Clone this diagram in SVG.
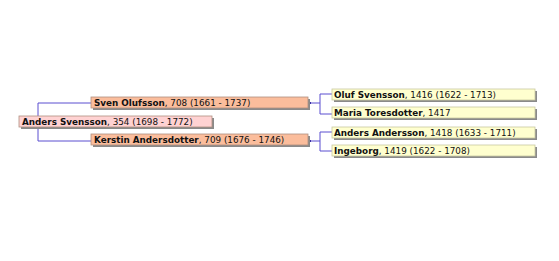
<svg xmlns="http://www.w3.org/2000/svg" width="559" height="261" viewBox="0 0 559 261">
<style>
.sh{fill:#8a8a8a}
.b{stroke:#b09080;stroke-width:0.8}
.p{fill:#ffd2d2}
.o{fill:#fbbd9c}
.y{fill:#ffffcf;stroke:#c8c8a0;stroke-width:0.8}
text{font-family:"DejaVu Sans",Verdana,sans-serif;font-size:8.8px;fill:#111}
.n{font-weight:bold}
.c{stroke:#5a4fd0;stroke-width:1;fill:none}
</style>
<rect width="559" height="261" fill="#fff"/>
<g id="connectors">
<path class="c" d="M91,103H38V141H91"/>
<path class="c" d="M310,103H320M320,94V114M320,94H332M320,114H332"/>
<path class="c" d="M310,141H320M320,132V151M320,132H332M320,151H332"/>
<rect x="309" y="102" width="2" height="2" fill="#3a2fa0"/>
<rect x="309" y="140" width="2" height="2" fill="#3a2fa0"/>
</g>
<g id="n354">
<rect class="sh" x="21" y="118" width="193" height="11"/>
<rect class="p b" x="19" y="116" width="193" height="11"/>
<text x="22" y="125"><tspan class="n">Anders Svensson</tspan>, 354 (1698 - 1772)</text>
</g>
<g id="n708">
<rect class="sh" x="93" y="99" width="217" height="11"/>
<rect class="o b" x="91" y="97" width="217" height="11"/>
<text x="94" y="106"><tspan class="n">Sven Olufsson</tspan>, 708 (1661 - 1737)</text>
</g>
<g id="n709">
<rect class="sh" x="93" y="136" width="217" height="11"/>
<rect class="o b" x="91" y="134" width="217" height="11"/>
<text x="94" y="143"><tspan class="n">Kerstin Andersdotter</tspan>, 709 (1676 - 1746)</text>
</g>
<g id="n1416">
<rect class="sh" x="334" y="91" width="203" height="11"/>
<rect class="y" x="332" y="89" width="203" height="11"/>
<text x="334" y="98"><tspan class="n">Oluf Svensson</tspan>, 1416 (1622 - 1713)</text>
</g>
<g id="n1417">
<rect class="sh" x="334" y="109" width="203" height="11"/>
<rect class="y" x="332" y="107" width="203" height="11"/>
<text x="334" y="116"><tspan class="n">Maria Toresdotter</tspan>, 1417</text>
</g>
<g id="n1418">
<rect class="sh" x="334" y="129" width="203" height="11"/>
<rect class="y" x="332" y="127" width="203" height="11"/>
<text x="334" y="136"><tspan class="n">Anders Andersson</tspan>, 1418 (1633 - 1711)</text>
</g>
<g id="n1419">
<rect class="sh" x="334" y="147" width="203" height="11"/>
<rect class="y" x="332" y="145" width="203" height="11"/>
<text x="334" y="154"><tspan class="n">Ingeborg</tspan>, 1419 (1622 - 1708)</text>
</g>
</svg>
